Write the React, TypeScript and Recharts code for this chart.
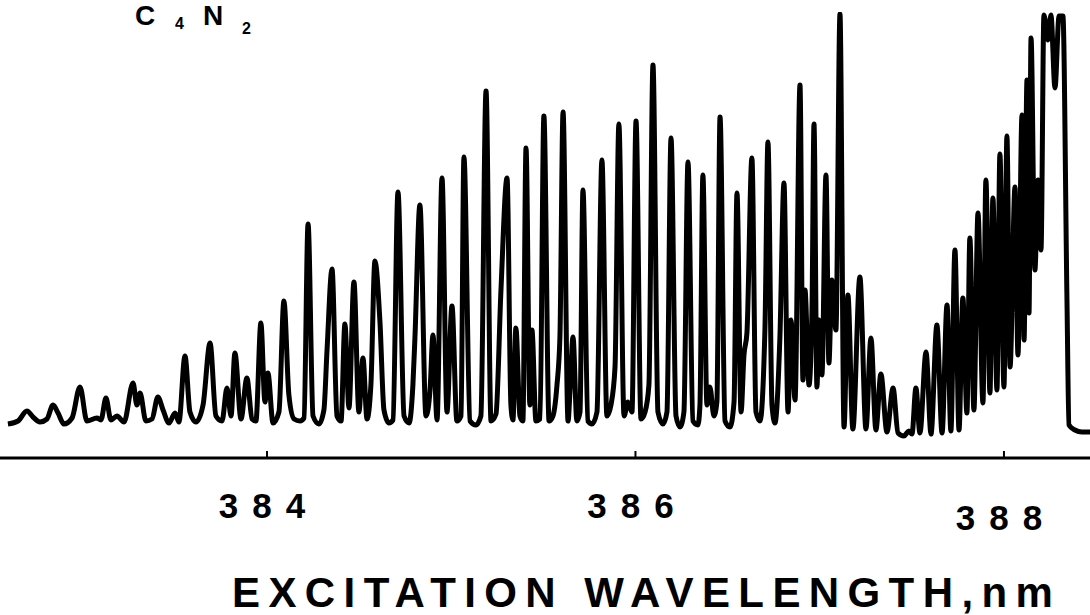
import { LineChart, Line, XAxis, YAxis } from 'recharts';

// excitation wavelength (nm): valleys and peaks in order
const WAVELENGTH = [
  382.594, 382.649, 382.697, 382.73, 382.768, 382.806, 382.839, 382.866, 382.898, 382.942,
  382.985, 383.023, 383.077, 383.099, 383.126, 383.153, 383.186, 383.224, 383.273, 383.294,
  383.311, 383.343, 383.376, 383.408, 383.436, 383.468, 383.501, 383.522, 383.555, 383.582,
  383.615, 383.653, 383.691, 383.723, 383.756, 383.783, 383.805, 383.826, 383.859, 383.891,
  383.919, 383.94, 383.967, 383.989, 384.005, 384.033, 384.065, 384.092, 384.119, 384.147,
  384.179, 384.201, 384.223, 384.25, 384.282, 384.309, 384.326, 384.353, 384.38, 384.402,
  384.423, 384.445, 384.472, 384.499, 384.521, 384.543, 384.564, 384.586, 384.613, 384.635,
  384.662, 384.684, 384.711, 384.744, 384.771, 384.792, 384.803, 384.83, 384.863, 384.885,
  384.901, 384.923, 384.95, 384.977, 385.004, 385.031, 385.053, 385.069, 385.102, 385.134,
  385.161, 385.189, 385.216, 385.243, 385.27, 385.303, 385.324, 385.335, 385.351, 385.373,
  385.389, 385.406, 385.427, 385.438, 385.46, 385.482, 385.503, 385.531, 385.552, 385.574,
  385.59, 385.607, 385.634, 385.645, 385.661, 385.682, 385.699, 385.715, 385.742, 385.764,
  385.791, 385.818, 385.845, 385.867, 385.889, 385.91, 385.938, 385.959, 385.981, 386.003,
  386.03, 386.052, 386.073, 386.095, 386.122, 386.149, 386.171, 386.193, 386.22, 386.242,
  386.263, 386.285, 386.312, 386.339, 386.35, 386.366, 386.388, 386.404, 386.426, 386.442,
  386.459, 386.486, 386.513, 386.535, 386.551, 386.573, 386.589, 386.605, 386.632, 386.654,
  386.676, 386.703, 386.719, 386.741, 386.757, 386.784, 386.806, 386.828, 386.844, 386.866,
  386.893, 386.909, 386.92, 386.942, 386.958, 386.969, 386.985, 386.996, 387.012, 387.034,
  387.05, 387.066, 387.088, 387.11, 387.132, 387.153, 387.18, 387.218, 387.251, 387.278,
  387.305, 387.332, 387.365, 387.398, 387.425, 387.457, 387.484, 387.501, 387.522, 387.544,
  387.577, 387.604, 387.636, 387.664, 387.691, 387.712, 387.734, 387.756, 387.777, 387.799,
  387.815, 387.837, 387.859, 387.886, 387.902, 387.924, 387.94, 387.962, 387.978, 388.0,
  388.016, 388.033, 388.06, 388.076, 388.098, 388.109, 388.125, 388.136, 388.147, 388.168,
  388.185, 388.201, 388.217, 388.239, 388.255, 388.277, 388.299, 388.32, 388.342, 388.353,
  388.385, 388.423, 388.467,
];

// fluorescence intensity, arbitrary units
const INTENSITY = [
  8, 11, 21, 15, 10, 13, 27, 19, 8, 14,
  45, 11, 14, 12, 34, 12, 16, 10, 49, 27,
  39, 11, 13, 35, 22, 9, 19, 10, 76, 20,
  10, 27, 89, 16, 11, 44, 16, 79, 13, 54,
  13, 11, 109, 30, 59, 9, 20, 131, 37, 13,
  11, 14, 208, 16, 8, 22, 82, 163, 16, 11,
  108, 24, 150, 20, 74, 13, 47, 171, 111, 22,
  9, 12, 240, 16, 9, 47, 94, 227, 16, 42,
  97, 12, 254, 20, 126, 11, 16, 275, 11, 7,
  16, 341, 11, 18, 142, 254, 27, 12, 104, 16,
  11, 284, 27, 102, 11, 13, 316, 11, 16, 47,
  95, 320, 11, 42, 95, 11, 20, 242, 11, 8,
  20, 272, 16, 27, 65, 308, 16, 30, 20, 311,
  13, 20, 47, 367, 20, 8, 20, 294, 16, 5,
  20, 270, 11, 7, 27, 257, 27, 45, 16, 30,
  315, 11, 5, 30, 239, 20, 77, 99, 274, 20,
  11, 105, 290, 27, 9, 95, 249, 20, 112, 32,
  347, 52, 142, 47, 122, 308, 45, 112, 57, 257,
  69, 152, 102, 418, 5, 137, 3, 155, 3, 94,
  2, 58, 0, 44, -1, -4, 1, -2, 44, -1,
  80, -2, 107, -1, 127, 1, 182, 2, 134, 19,
  194, 22, 219, 29, 252, 39, 234, 42, 278, 45,
  296, 65, 245, 77, 317, 92, 352, 119, 394, 162,
  252, 182, 417, 392, 417, 344, 416, 416, 132, 7,
  2, 0, 0,
];

const TICKS = [384, 386, 388];

const data = WAVELENGTH.map((wl, i) => ({ wl, value: INTENSITY[i] }));

const FONT = '"Liberation Sans", Arial, sans-serif';

function WaveTick(props: any) {
  const { x, y, payload } = props;
  const drop = payload.value === 388 ? 12 : 0;
  return (
    <g>
      <line x1={x} y1={y} x2={x} y2={y - 7} stroke="#000" strokeWidth={2} />
      <text
        x={x - 5}
        y={y + 60 + drop}
        textAnchor="middle"
        fontFamily={FONT}
        fontWeight="bold"
        fontSize={35}
        letterSpacing={14}
        dx={7}
        fill="#000"
      >
        {payload.value}
      </text>
    </g>
  );
}

export default function App() {
  return (
    <div style={{ position: 'absolute', left: 0, top: 0, width: 1090, height: 615, background: '#fff' }}>
      <LineChart width={1090} height={615} data={data} margin={{ top: 12, right: 0, left: 0, bottom: 57 }}>
        <XAxis
          dataKey="wl"
          type="number"
          domain={[382.551, 388.467]}
          ticks={TICKS}
          allowDataOverflow
          height={100}
          tickLine={false}
          tickSize={0}
          tickMargin={0}
          axisLine={{ stroke: '#000', strokeWidth: 3 }}
          tick={WaveTick}
        />
        <YAxis hide type="number" domain={[-26, 420]} allowDataOverflow />
        <Line
          type="monotone"
          dataKey="value"
          stroke="#000"
          strokeWidth={5}
          strokeLinejoin="round"
          dot={false}
          isAnimationActive={false}
        />
      </LineChart>
      <svg width={1090} height={615} style={{ position: 'absolute', left: 0, top: 0, pointerEvents: 'none' }}>
        <g fontFamily={FONT} fontWeight="bold" fill="#000">
          <text x={135} y={25} fontSize={28}>C</text>
          <text x={175} y={29} fontSize={16}>4</text>
          <text x={203} y={25} fontSize={28}>N</text>
          <text x={242} y={34} fontSize={16}>2</text>
          <text x={232} y={607} fontSize={42} letterSpacing={8.4}>EXCITATION WAVELENGTH,nm</text>
        </g>
      </svg>
    </div>
  );
}
